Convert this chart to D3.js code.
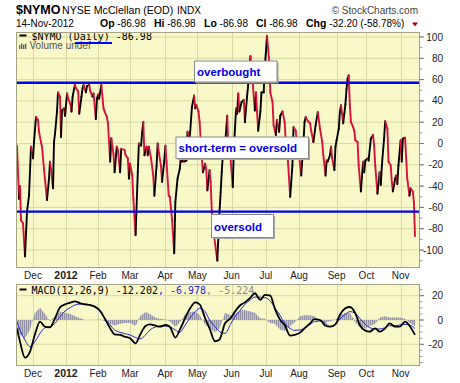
<!DOCTYPE html>
<html><head><meta charset="utf-8">
<script src="https://cdn.jsdelivr.net/npm/d3@7"></script>
<style>body{margin:0;background:#fff;} svg{display:block;font-family:"Liberation Sans",Arial,sans-serif;}</style>
</head><body><svg id="c" width="460" height="383"></svg>
<script>
// ---------- DATA ----------
const nymoDates = ["2011-11-15","2011-11-17","2011-11-18","2011-11-19","2011-11-21","2011-11-23","2011-11-25","2011-11-27","2011-11-29","2011-12-01",
"2011-12-02","2011-12-04","2011-12-06","2011-12-07","2011-12-09","2011-12-10","2011-12-12","2011-12-15","2011-12-17","2011-12-18",
"2011-12-19","2011-12-21","2011-12-22","2011-12-23","2011-12-25","2011-12-26","2011-12-28","2011-12-29","2011-12-30","2012-01-01",
"2012-01-02","2012-01-04","2012-01-05","2012-01-07","2012-01-08","2012-01-09","2012-01-11","2012-01-12","2012-01-14","2012-01-15",
"2012-01-17","2012-01-18","2012-01-19","2012-01-21","2012-01-22","2012-01-24","2012-01-25","2012-01-27","2012-01-28","2012-01-30",
"2012-01-31","2012-02-01","2012-02-02","2012-02-04","2012-02-06","2012-02-07","2012-02-09","2012-02-10","2012-02-12","2012-02-13",
"2012-02-15","2012-02-16","2012-02-18","2012-02-19","2012-02-21","2012-02-22","2012-02-25","2012-02-26","2012-02-28","2012-02-29",
"2012-03-01","2012-03-03","2012-03-04","2012-03-06","2012-03-08","2012-03-09","2012-03-11","2012-03-12","2012-03-13","2012-03-14",
"2012-03-16","2012-03-17","2012-03-18","2012-03-20","2012-03-22","2012-03-23","2012-03-25","2012-03-26","2012-03-27","2012-03-29",
"2012-03-30","2012-04-01","2012-04-02","2012-04-03","2012-04-05","2012-04-06","2012-04-08","2012-04-10","2012-04-11","2012-04-13",
"2012-04-15","2012-04-16","2012-04-17","2012-04-18","2012-04-19","2012-04-21","2012-04-22","2012-04-24","2012-04-26","2012-04-28",
"2012-04-29","2012-04-30","2012-05-02","2012-05-03","2012-05-05","2012-05-06","2012-05-08","2012-05-09","2012-05-10","2012-05-12",
"2012-05-13","2012-05-14","2012-05-16","2012-05-19","2012-05-21","2012-05-22","2012-05-23","2012-05-24","2012-05-26","2012-05-28",
"2012-05-29","2012-05-31","2012-06-02","2012-06-03","2012-06-05","2012-06-06","2012-06-07","2012-06-08","2012-06-10","2012-06-12",
"2012-06-13","2012-06-15","2012-06-16","2012-06-18","2012-06-20","2012-06-22","2012-06-23","2012-06-25","2012-06-27","2012-06-28",
"2012-06-30","2012-07-01","2012-07-02","2012-07-03","2012-07-05","2012-07-06","2012-07-08","2012-07-09","2012-07-11","2012-07-12",
"2012-07-14","2012-07-15","2012-07-17","2012-07-19","2012-07-20","2012-07-22","2012-07-24","2012-07-26","2012-07-27","2012-07-29",
"2012-07-30","2012-08-01","2012-08-03","2012-08-05","2012-08-06","2012-08-07","2012-08-09","2012-08-11","2012-08-12","2012-08-14",
"2012-08-16","2012-08-18","2012-08-20","2012-08-22","2012-08-23","2012-08-25","2012-08-26","2012-08-27","2012-08-29","2012-08-30",
"2012-08-31","2012-09-02","2012-09-03","2012-09-04","2012-09-06","2012-09-07","2012-09-08","2012-09-10","2012-09-11","2012-09-12",
"2012-09-13","2012-09-14","2012-09-15","2012-09-16","2012-09-17","2012-09-19","2012-09-20","2012-09-21","2012-09-23","2012-09-24",
"2012-09-26","2012-09-28","2012-09-29","2012-09-30","2012-10-02","2012-10-03","2012-10-05","2012-10-07","2012-10-08","2012-10-09",
"2012-10-11","2012-10-13","2012-10-14","2012-10-15","2012-10-17","2012-10-18","2012-10-20","2012-10-21","2012-10-23","2012-10-24",
"2012-10-25","2012-10-27","2012-10-28","2012-10-29","2012-10-30","2012-11-01","2012-11-02","2012-11-03","2012-11-05","2012-11-06",
"2012-11-07","2012-11-09","2012-11-10","2012-11-12","2012-11-13","2012-11-14"];
const nymoValues = [-2,-52,-40,-72,-75,-106,-64,-49,-3,-14,
1.5,25,22,11,1,-3,-24,-53,-33,-17,
-24,-42,1.5,9,30,48,44,6,31,33,
26,47,42,37,30,44,55,52,49,28,
44,52,55,48,54,55,49,44,47,23,
42,46,42,55,33,30,25,19,-17,5,
-10,-27,-3,-6,-27,-5,-6,-11,-14,-33,
-19,-30,-52,-86,-27,0,-2,11,20,-11,
-3,-11,-3,-14,-30,-49,-21,0,-8,-21,
-36,-16,-2,-17,-49,-50,-71,-103,-55,-33,
-24,-13,-17,-14,-17,-16,11,4.5,34,45,
33,36,30,20,-14,-27,-19,-24,-44,-25,
-36,-64,-86,-110,-64,-46,-27,-11,-2,26,
-5,-14,-41,-5,33,28,47,30,39,41,
20,45,55,82,58,31,48,12,30,48,
48,72,86,101,76.5,48,39,17,8,22,
11,26,30,20,1.4,-17,-50,-20.5,15.5,12,
1.4,-11,-30,1.4,20,25,21,19,12,1.4,
17,29.5,14,1.4,-11,-30,-16,-17,-11,-3,
-14,-25,-3,3,14,29.5,36,19,28,37,
51,61,64,36,20,15.5,12,3,1.4,-20.5,
-45,-17,-27,-16,-14,-16,4.5,8,-2,-20.5,
-47,-27,-39,-20.5,4.5,21,14,-17,-20.5,-36,
-45,-33,-30,-38,-20.5,3,-17,4.5,5.5,-14,
-33,-49,-42,-45,-54.78,-86.98];

const macdDates = ["2011-11-15","2011-11-18","2011-11-23","2011-11-28","2011-12-03","2011-12-08","2011-12-13","2011-12-18","2011-12-23","2011-12-28",
"2012-01-02","2012-01-07","2012-01-11","2012-01-16","2012-01-20","2012-01-25","2012-01-29","2012-02-03","2012-02-07","2012-02-12",
"2012-02-16","2012-02-21","2012-02-25","2012-03-01","2012-03-06","2012-03-10","2012-03-15","2012-03-19","2012-03-24","2012-03-28",
"2012-04-02","2012-04-06","2012-04-11","2012-04-15","2012-04-20","2012-04-24","2012-04-29","2012-05-03","2012-05-08","2012-05-12",
"2012-05-17","2012-05-21","2012-05-26","2012-05-31","2012-06-04","2012-06-09","2012-06-13","2012-06-18","2012-06-22","2012-06-27",
"2012-07-01","2012-07-06","2012-07-10","2012-07-15","2012-07-19","2012-07-24","2012-07-28","2012-08-02","2012-08-06","2012-08-11",
"2012-08-15","2012-08-20","2012-08-25","2012-08-29","2012-09-03","2012-09-07","2012-09-12","2012-09-16","2012-09-21","2012-09-25",
"2012-09-30","2012-10-04","2012-10-09","2012-10-13","2012-10-18","2012-10-22","2012-10-27","2012-10-31","2012-11-05","2012-11-09",
"2012-11-14"];
const macdValues = [-6.9,-17.8,-31,-26,-11.8,-1.4,-5.5,-6,1.4,10.4,
12.9,14.3,15.4,13.7,12.9,12.3,11,7.4,1.4,-6.9,
-11.8,-12.3,-13.7,-15,-19.2,-12.3,-4.9,-3.6,-4.7,-5.5,
-4.1,-5.5,-14.5,-8.2,1.9,9,14.5,12.9,1.4,-6.9,
-17.5,-16,-2.7,1.4,6.9,12.3,14.5,18.4,22,16.5,
20.6,20,9.6,0,-4.1,-12.9,-12.3,-10.4,-6.9,-2.7,
0.8,0,-4.7,-5.5,-3.6,4.1,9.6,10.7,5.5,-4.1,
-8.8,-9.6,-6.9,-9.6,-6.9,-2.7,-5.5,-5.5,-1.4,-4.7,
-12.202];
const signalValues = [-1.4,-8.2,-16.5,-22,-17.8,-11,-6.3,-5.5,-2.7,2.7,
7.4,10.2,12.3,13.2,13.2,12.3,11,6.9,1.4,-4.1,
-8.2,-10.2,-11.2,-12.3,-14.5,-15.6,-12.3,-8.2,-5.8,-4.9,
-4.9,-5.5,-8.2,-10.2,-4.1,1.4,6.9,9.6,6.9,0,
-5.5,-9.6,-11,-3.5,2.7,8.2,12.9,16.5,18.9,18.7,
18.4,15.6,10.2,3.6,-2.7,-6.9,-8.5,-8.2,-6.3,-3.6,
-1.4,-0.8,-2.7,-5.5,-3.6,0.8,4.7,6.9,5.5,1.4,
-3.6,-6.3,-7.4,-7.4,-6.3,-4.7,-4.7,-4.1,-3.6,-4.1,
-6.978];
const histValues = [-8,-12,-15,-8,6,10,5,-1,3,7,
6,5,3,1.5,0,0,0,0.5,-1,-3,
-4.5,-3,-2.5,-2.5,-5,3,6.5,5,2,1,
0.5,-1,-5.5,-2,5,6.5,7,4,-4,-7,
-10,-7,6,4,5,8,8,7,6,1.5,
1,-2.7,-3,-8,-9,-5,-2,3,4,4,
3,-1,-2,-1,0.5,4,6,6,-2,-6,
-7,-5,-3,2,3,2,2,2,1,-2,
-5.224];

const monthTickDates = ["2011-12-01","2012-01-03","2012-02-01","2012-03-01","2012-04-02","2012-05-01","2012-06-01","2012-07-02","2012-08-01","2012-09-04","2012-10-01","2012-11-01"];
const monthTickLabels = ["Dec","2012","Feb","Mar","Apr","May","Jun","Jul","Aug","Sep","Oct","Nov"];
const mainTicks = [100,80,60,40,20,0,-20,-40,-60,-80,-100];
const macdTicks = [20,0,-20];
const overboughtLevel = 57;
const oversoldLevel = -64;

// ---------- DRAW ----------
const parse = d3.utcParse("%Y-%m-%d");
const svg = d3.select("#c");
const L = 16, R = 420;
const x = d3.scaleUtc()
  .domain([parse("2011-11-15"), parse("2012-01-03"), parse("2012-11-14")])
  .range([17, 66, 415]);
const yMain = d3.scaleLinear().domain([-100, 100]).range([250, 37]);
const yMacd = d3.scaleLinear().domain([-20, 20]).range([344.3, 295.7]);
const mainTop = 32, mainBot = 268, macdTop = 284, macdBot = 366;
const bg = "#f8f8c9", grid = "#d9d9a3", border = "#a3a384";

const defs = svg.append("defs");
defs.append("clipPath").attr("id","cm").append("rect").attr("x",L).attr("y",mainTop).attr("width",R-L).attr("height",mainBot-mainTop);
defs.append("clipPath").attr("id","cd").append("rect").attr("x",L).attr("y",macdTop).attr("width",R-L).attr("height",macdBot-macdTop);
const pat = defs.append("pattern").attr("id","hatch").attr("patternUnits","userSpaceOnUse").attr("width",2).attr("height",4);
pat.append("rect").attr("x",0).attr("y",0).attr("width",1.5).attr("height",4).attr("fill","#9292a4");

// header
const h = svg.append("g").attr("fill","#000");
h.append("text").attr("x",16).attr("y",13.5).attr("font-size",12.5).attr("font-weight","bold").text("$NYMO");
h.append("text").attr("x",62).attr("y",13.5).attr("font-size",10.6).text("NYSE McClellan (EOD)");
h.append("text").attr("x",177).attr("y",13.5).attr("font-size",10).text("INDX");
h.append("text").attr("x",418).attr("y",13.5).attr("font-size",10).attr("text-anchor","end").attr("fill","#444").text("\u00A9 StockCharts.com");
h.append("text").attr("x",16).attr("y",26.5).attr("font-size",10).text("14-Nov-2012");
const quote = [["Op",100,"-86.98"],["Hi",154,"-86.98"],["Lo",204,"-86.98"],["Cl",256,"-86.98"],["Chg",306,"-32.20 (-58.78%)"]];
quote.forEach(q => {
  const t = h.append("text").attr("x",q[1]).attr("y",26.5).attr("font-size",10);
  t.append("tspan").attr("font-weight","bold").attr("font-size",10.5).text(q[0]);
  t.append("tspan").text(" " + q[2]);
});
svg.append("path").attr("d","M412,22.5 L418,22.5 L415,26.5 Z").attr("fill","#a0001e");

function panel(top, bot, yS, ticks, minorStep) {
  const g = svg.append("g");
  g.append("rect").attr("x",L).attr("y",top).attr("width",R-L).attr("height",bot-top).attr("fill",bg);
  g.selectAll(".hg").data(ticks).join("line").attr("x1",L).attr("x2",R)
    .attr("y1",d=>yS(d)).attr("y2",d=>yS(d)).attr("stroke",grid).attr("stroke-width",1);
  g.selectAll(".vg").data(monthTickDates).join("line")
    .attr("x1",d=>Math.round(x(parse(d)))+0.5).attr("x2",d=>Math.round(x(parse(d)))+0.5)
    .attr("y1",top).attr("y2",bot).attr("stroke",grid).attr("stroke-width",1);
  const lo = Math.ceil(yS.invert(bot)/minorStep)*minorStep, hi = Math.floor(yS.invert(top)/minorStep)*minorStep;
  const minor = d3.range(lo, hi + 0.001, minorStep);
  g.selectAll(".mt").data(minor).join("line").attr("x1",R).attr("x2",R+2.5)
    .attr("y1",d=>yS(d)).attr("y2",d=>yS(d)).attr("stroke","#999");
  g.selectAll(".tk").data(ticks).join("line").attr("x1",R).attr("x2",R+4)
    .attr("y1",d=>yS(d)).attr("y2",d=>yS(d)).attr("stroke","#777");
  g.selectAll(".tl").data(ticks).join("text").attr("x",443).attr("y",d=>yS(d)+3.5)
    .attr("text-anchor","end").attr("font-size",10).attr("fill","#222").text(d=>d);
  g.selectAll(".ml").data(monthTickDates).join("text")
    .attr("x",d=>x(parse(d))).attr("y",bot+11).attr("text-anchor","middle")
    .attr("font-size",(d,i)=>monthTickLabels[i]==="2012"?10.5:10)
    .attr("font-weight",(d,i)=>monthTickLabels[i]==="2012"?"bold":"normal")
    .attr("fill","#222").text((d,i)=>monthTickLabels[i]);
  return g;
}

panel(mainTop, mainBot, yMain, mainTicks, 10);
panel(macdTop, macdBot, yMacd, macdTicks, 5);

// main series: black when rising, red when falling
const nymo = nymoDates.map((d,i)=>({t:parse(d), v:nymoValues[i]}));
const seg = d3.line().x(d=>x(d.t)).y(d=>yMain(d.v));
const gl = svg.append("g").attr("clip-path","url(#cm)");
d3.pairs(nymo).forEach(p => {
  gl.append("path").attr("d", seg(p)).attr("fill","none")
    .attr("stroke", p[1].v >= p[0].v ? "#000" : "#d8123c")
    .attr("stroke-width",1.9).attr("stroke-linecap","round").attr("stroke-linejoin","round");
});

// overbought / oversold lines
[overboughtLevel, oversoldLevel].forEach(v => {
  svg.append("line").attr("x1",L).attr("x2",R).attr("y1",yMain(v)).attr("y2",yMain(v))
    .attr("stroke","#0000f0").attr("stroke-width",2.4);
});

// annotations
function note(bx, by, bw, bh, txt) {
  svg.append("rect").attr("x",bx+2).attr("y",by+2).attr("width",bw).attr("height",bh).attr("fill","#a8a8a8");
  svg.append("rect").attr("x",bx+0.5).attr("y",by+0.5).attr("width",bw).attr("height",bh).attr("fill","#fff").attr("stroke","#8a8a8a");
  svg.append("text").attr("x",bx+3).attr("y",by+bh-6).attr("font-size",11.5).attr("font-weight","bold")
    .attr("fill","#0000ee").text(txt);
}
note(194, 60.5, 82.5, 21, "overbought");
note(175.5, 136.5, 132.5, 21.5, "short-term = oversold");
note(211, 214, 62, 23, "oversold");

// main legend
svg.append("rect").attr("x",19.5).attr("y",34.5).attr("width",7).attr("height",2).attr("fill","#000");
svg.append("text").attr("x",31.5).attr("y",39.5).attr("font-family","'DejaVu Sans Mono',monospace").attr("font-size",10)
  .attr("fill","#000").text("$NYMO (Daily) -86.98");
[[19,45,4],[21,43.5,5.5],[23,44.5,4.5],[25,43.5,5.5]].forEach(b=>{
  svg.append("rect").attr("x",b[0]).attr("y",b[1]).attr("width",1.4).attr("height",b[2]).attr("fill","#666");
});
svg.append("text").attr("x",29.5).attr("y",49).attr("font-size",10).attr("fill","#555").text("Volume undef");
svg.append("line").attr("x1",75).attr("x2",112).attr("y1",43).attr("y2",43).attr("stroke","#0000f0").attr("stroke-width",1.8);

// MACD panel
const gm2 = svg.append("g").attr("clip-path","url(#cd)");
const md = macdDates.map(parse);
const hist = d3.area().x((d,i)=>x(md[i])).y0(yMacd(0)).y1(d=>yMacd(d));
gm2.append("path").attr("d", hist(histValues)).attr("fill","url(#hatch)");
const ml = d3.line().x((d,i)=>x(md[i])).y(d=>yMacd(d)).curve(d3.curveMonotoneX);
gm2.append("path").attr("d", ml(signalValues)).attr("fill","none").attr("stroke","#2525d8").attr("stroke-width",1);
gm2.append("path").attr("d", ml(macdValues)).attr("fill","none").attr("stroke","#000").attr("stroke-width",1.8);

svg.append("rect").attr("x",19.5).attr("y",288.5).attr("width",7).attr("height",2).attr("fill","#000");
const mt = svg.append("text").attr("x",31.5).attr("y",293.5).attr("font-family","'DejaVu Sans Mono',monospace").attr("font-size",10);
mt.append("tspan").attr("fill","#000").text("MACD(12,26,9) -12.202");
mt.append("tspan").attr("fill","#2525d8").text(", -6.978");
mt.append("tspan").attr("fill","#888").text(", -5.224");

// borders
[[mainTop,mainBot],[macdTop,macdBot]].forEach(b=>{
  svg.append("rect").attr("x",L+0.5).attr("y",b[0]+0.5).attr("width",R-L-1).attr("height",b[1]-b[0]-1)
    .attr("fill","none").attr("stroke",border);
});
</script></body></html>
